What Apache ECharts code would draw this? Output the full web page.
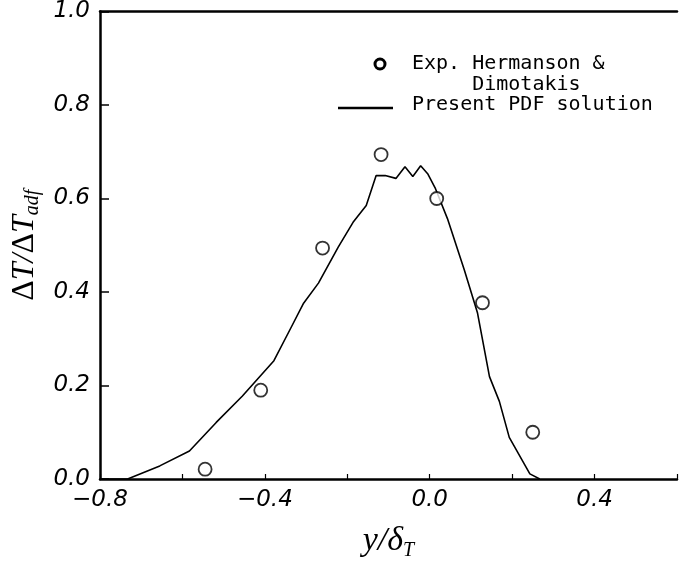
<!DOCTYPE html>
<html>
<head>
<meta charset="utf-8">
<script src="https://cdn.jsdelivr.net/npm/echarts@6/dist/echarts.min.js"></script>
<style>
  html, body { margin: 0; padding: 0; background: #fff; }
  #chart { width: 680px; height: 566px; }
</style>
</head>
<body>
<div id="chart"></div>
<script>
// exp. Hermanson & Dimotakis (circles)
var expX = [-0.545, -0.41, -0.26, -0.118, 0.017, 0.128, 0.25];
var expY = [0.021, 0.19, 0.494, 0.694, 0.60, 0.377, 0.10];

// present PDF solution (line)
var pdfX = [-0.8, -0.733, -0.655, -0.583, -0.518, -0.455, -0.378, -0.337, -0.306, -0.27,
            -0.222, -0.186, -0.154, -0.13, -0.108, -0.082, -0.06, -0.041, -0.022, -0.005,
            0.014, 0.043, 0.084, 0.116, 0.145, 0.169, 0.193, 0.243, 0.267];
var pdfY = [0, 0, 0.028, 0.06, 0.121, 0.177, 0.253, 0.323, 0.376, 0.419,
            0.496, 0.549, 0.585, 0.649, 0.649, 0.643, 0.668, 0.647, 0.670, 0.653,
            0.621, 0.557, 0.447, 0.355, 0.219, 0.166, 0.089, 0.011, 0];

// labelled x ticks (others are bare tick marks)
var xLabelVals = [-0.8, -0.4, 0.0, 0.4];

function pairs(xs, ys) {
  var out = [];
  for (var i = 0; i < xs.length; i++) out.push([xs[i], ys[i]]);
  return out;
}

var labelFont = { color: '#000', fontSize: 23, fontStyle: 'italic', fontFamily: 'DejaVu Sans' };
var monoFont = '20px "DejaVu Sans Mono"';

var chart = echarts.init(document.getElementById('chart'));

var option = {
  backgroundColor: '#fff',
  animation: false,
  grid: { left: 100, right: 0, top: 11, bottom: 85 },
  xAxis: [{
    type: 'value',
    min: -0.8, max: 0.6, interval: 0.2,
    axisLine: { onZero: false, lineStyle: { color: '#000', width: 2.5 } },
    axisTick: { inside: true, length: 5, lineStyle: { color: '#000', width: 1.2 } },
    splitLine: { show: false },
    axisLabel: Object.assign({
      margin: 10,
      formatter: function (v) {
        for (var i = 0; i < xLabelVals.length; i++) {
          if (Math.abs(v - xLabelVals[i]) < 1e-6) {
            var s = Math.abs(v) < 1e-9 ? '0.0' : v.toFixed(1);
            return s.replace('-', '\u2212');
          }
        }
        return '';
      }
    }, labelFont),
    name: '{t|y/δ}{s|T}',
    nameLocation: 'middle',
    nameGap: 42,
    nameTextStyle: {
      rich: {
        t: { fontFamily: 'Liberation Serif', fontStyle: 'italic', fontSize: 34, color: '#000', lineHeight: 40 },
        s: { fontFamily: 'Liberation Serif', fontStyle: 'italic', fontSize: 20, color: '#000', lineHeight: 20, verticalAlign: 'bottom' }
      }
    }
  }, {
    // top frame line
    type: 'value', position: 'top',
    min: -0.8, max: 0.6,
    axisLine: { onZero: false, lineStyle: { color: '#000', width: 2.5 } },
    axisTick: { show: false }, axisLabel: { show: false }, splitLine: { show: false }
  }],
  yAxis: {
    type: 'value',
    min: 0, max: 1, interval: 0.2,
    axisLine: { show: true, onZero: false, lineStyle: { color: '#000', width: 2.5 } },
    axisTick: { show: true, inside: true, length: 9, lineStyle: { color: '#000', width: 1.5 } },
    splitLine: { show: false },
    axisLabel: Object.assign({
      margin: 10,
      formatter: function (v) { return v.toFixed(1); }
    }, labelFont),
    name: '{d|Δ}{t|T/}{d|Δ}{t|T}{s|adf}',
    nameLocation: 'middle',
    nameRotate: 90,
    nameGap: 56,
    nameTextStyle: {
      rich: {
        d: { fontFamily: 'Liberation Serif', fontSize: 32, color: '#000', lineHeight: 36 },
        t: { fontFamily: 'Liberation Serif', fontStyle: 'italic', fontSize: 32, color: '#000', lineHeight: 36 },
        s: { fontFamily: 'Liberation Serif', fontStyle: 'italic', fontSize: 20, color: '#000', lineHeight: 20, verticalAlign: 'bottom' }
      }
    }
  },
  series: [
    {
      name: 'Present PDF solution',
      type: 'line',
      data: pairs(pdfX, pdfY),
      symbol: 'none',
      lineStyle: { color: '#000', width: 1.6 },
      z: 3
    },
    {
      name: 'Exp. Hermanson & Dimotakis',
      type: 'scatter',
      data: pairs(expX, expY),
      symbol: 'circle',
      symbolSize: 13,
      itemStyle: { color: '#fff', borderColor: '#000', borderWidth: 1.8 },
      z: 4
    }
  ],
  graphic: [
    { type: 'circle', shape: { cx: 380, cy: 64, r: 5 }, style: { fill: '#fff', stroke: '#000', lineWidth: 3 } },
    { type: 'text', x: 412, y: 53,
      style: { text: 'Exp. Hermanson &\n     Dimotakis', fill: '#000', font: monoFont, lineHeight: 21 } },
    { type: 'line', shape: { x1: 338, y1: 108, x2: 393, y2: 108 }, style: { stroke: '#000', lineWidth: 2.5 } },
    { type: 'text', x: 412, y: 95,
      style: { text: 'Present PDF solution', fill: '#000', font: monoFont } }
  ]
};

chart.setOption(option);
</script>
</body>
</html>
